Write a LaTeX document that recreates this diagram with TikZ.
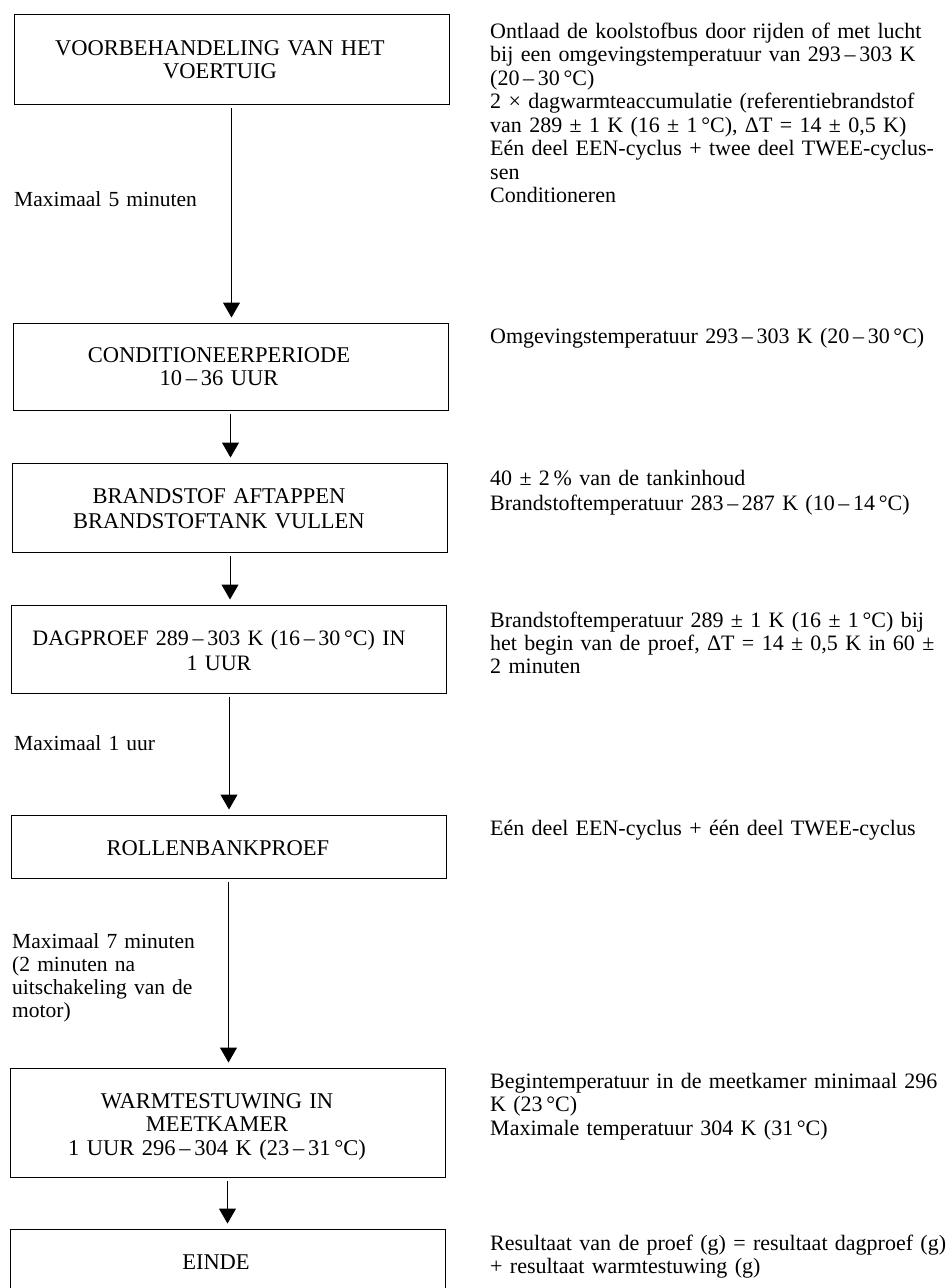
\documentclass[tikz,border=0pt]{standalone}
\usepackage{fontspec}
\setmainfont{Liberation Serif}
\usetikzlibrary{arrows.meta}
\newcommand{\jline}[1]{\makebox[\linewidth][s]{#1}}
\begin{document}
\begin{tikzpicture}[x=1pt,y=-1pt,
  every node/.style={font=\fontsize{22}{23}\selectfont},
  box/.style={draw, line width=1pt, inner sep=0pt, minimum width=435pt},
  title/.style={text width=430pt, align=center, anchor=base, inner sep=0pt},
  side/.style={text width=240pt, align=left, anchor=base west, inner sep=0pt},
  note/.style={text width=457pt, align=left, anchor=base west, inner sep=0pt},
  arr/.style={line width=1pt, -{Triangle[width=17pt,length=15pt]}, shorten <=3pt, shorten >=5pt}
]
\useasboundingbox (0,0) rectangle (951,1288);
\clip (0,0) rectangle (951,1288);
\fill[white] (0,0) rectangle (951,1288);

% boxes
\node[box, minimum height=90pt] (b1) at (231.5,59) {};
\node[box, minimum height=87pt] (b2) at (230.5,366.5) {};
\node[box, minimum height=89pt] (b3) at (230,507.5) {};
\node[box, minimum height=88pt] (b4) at (229,649) {};
\node[box, minimum height=63pt] (b5) at (228.5,846.5) {};
\node[box, minimum height=109pt] (b6) at (227.5,1122.5) {};
\node[box, minimum height=92pt] (b7) at (227.5,1275) {};

% titles
\node[title, font=\fontsize{22.5}{23}\selectfont] (t1) at (220,55) {VOORBEHANDELING VAN HET\\VOERTUIG};
\node[title, font=\fontsize{22.5}{23}\selectfont] (t2) at (219,362) {CONDITIONEERPERIODE\\10\,–\,36 UUR};
\node[title, font=\fontsize{22.5}{25}\selectfont] (t3) at (219,503) {BRANDSTOF AFTAPPEN\\BRANDSTOFTANK VULLEN};
\node[title, font=\fontsize{22}{25}\selectfont] (t4) at (219,645) {DAGPROEF 289\,–\,303 K (16\,–\,30\,°C) IN\\1 UUR};
\node[title, font=\fontsize{22.5}{23}\selectfont] (t5) at (218,855) {ROLLENBANKPROEF};
\node[title, font=\fontsize{22.5}{23.5}\selectfont] (t6) at (217,1108) {WARMTESTUWING IN\\MEETKAMER\\1 UUR 296\,–\,304 K (23\,–\,31\,°C)};
\node[title, font=\fontsize{22.5}{23}\selectfont] (t7) at (216,1269) {EINDE};

% connectors
\draw[arr] (b1.south) -- (b1.south |- b2.north);
\draw[arr] (b2.south) -- (b2.south |- b3.north);
\draw[arr] (b3.south) -- (b3.south |- b4.north);
\draw[arr] (b4.south) -- (b4.south |- b5.north);
\draw[arr] (b5.south) -- (b5.south |- b6.north);
\draw[arr] (b6.south) -- (b6.south |- b7.north);

% side labels
\node[side, font=\fontsize{21.5}{23}\selectfont] (s1) at (14,206) {Maximaal 5 minuten};
\node[side, font=\fontsize{21.5}{23}\selectfont] (s2) at (14,750) {Maximaal 1 uur};
\node[side, font=\fontsize{21.5}{23.3}\selectfont] (s3) at (12,948) {Maximaal 7 minuten\\(2 minuten na\\uitschakeling van de\\motor)};

% notes
\node[note, font=\fontsize{22}{23.5}\selectfont] (n1) at (490,38) {%
\jline{Ontlaad de koolstofbus door rijden of met lucht}\\
\jline{bij een omgevingstemperatuur van 293\,–\,303 K}\\
(20\,–\,30\,°C)\\
\jline{2 × dagwarmteaccumulatie (referentiebrandstof}\\
van 289 ± 1 K (16 ± 1\,°C), ΔT = 14 ± 0,5 K)\\
\jline{Eén deel EEN-cyclus + twee deel TWEE-cyclus-}\\
sen\\
Conditioneren};
\node[note] (n2) at (490,343) {Omgevingstemperatuur 293\,–\,303 K (20\,–\,30\,°C)};
\node[note, font=\fontsize{22}{25}\selectfont] (n3) at (490,485) {40 ± 2\,\% van de tankinhoud\\Brandstoftemperatuur 283\,–\,287 K (10\,–\,14\,°C)};
\node[note] (n4) at (490,627) {%
\jline{Brandstoftemperatuur 289 ± 1 K (16 ± 1\,°C) bij}\\
\jline{het begin van de proef, ΔT = 14 ± 0,5 K in 60 ±}\\
2 minuten};
\node[note] (n5) at (490,835) {Eén deel EEN-cyclus + één deel TWEE-cyclus};
\node[note, font=\fontsize{22}{23.5}\selectfont] (n6) at (490,1088) {%
\jline{Begintemperatuur in de meetkamer minimaal 296}\\
K (23\,°C)\\
Maximale temperatuur 304 K (31\,°C)};
\node[note] (n7) at (490,1250) {%
\jline{Resultaat van de proef (g) = resultaat dagproef (g)}\\
+ resultaat warmtestuwing (g)};
\end{tikzpicture}
\end{document}
